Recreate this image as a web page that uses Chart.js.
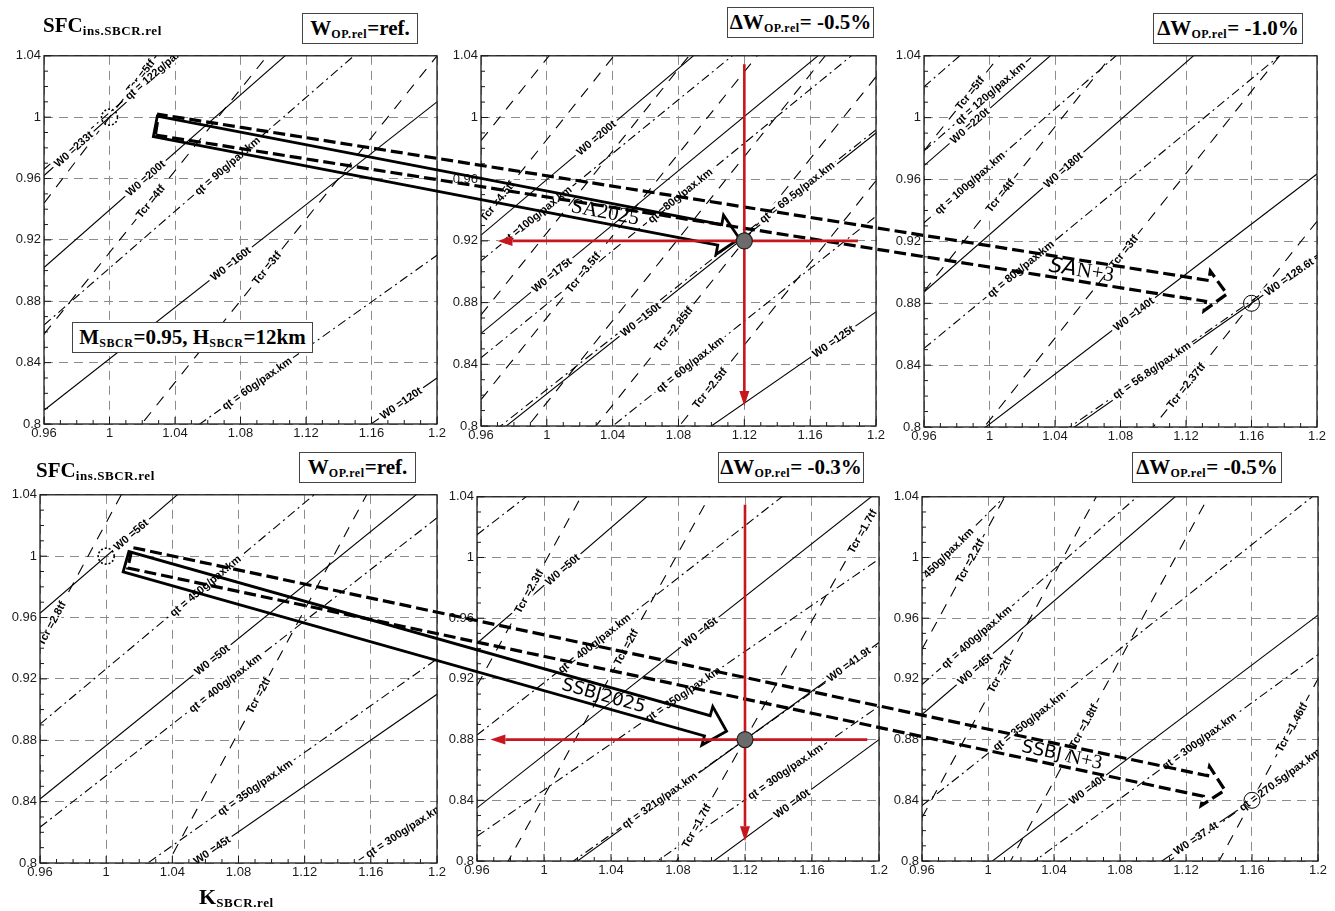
<!DOCTYPE html>
<html lang="en">
<head>
<meta charset="utf-8">
<title>SFC vs K carpet plots</title>
<script src="https://cdn.jsdelivr.net/npm/chart.js@4.4.1/dist/chart.umd.min.js"></script>
<style>
  html, body { margin: 0; padding: 0; background: #fff; }
  body { position: relative; width: 1335px; height: 911px; overflow: hidden;
         font-family: "Liberation Serif", "Times New Roman", serif; }
  canvas.panel { position: absolute; }
  #overlay { position: absolute; left: 0; top: 0; pointer-events: none; }
  .box { position: absolute; box-sizing: border-box; border: 1px solid #444; background: #fff;
         font-weight: bold; font-size: 21px; line-height: 29px; text-align: center; white-space: nowrap; }
  .hdr { position: absolute; font-weight: bold; font-size: 21px; line-height: 1; white-space: nowrap; }
  .box sub, .hdr sub { font-size: 12px; vertical-align: -3px; letter-spacing: .6px; line-height: 0; }
  .hdr sub { font-size: 13px; }
</style>
</head>
<body>
<div id="panels"></div>
<canvas id="overlay" width="1335" height="911"></canvas>

<div class="hdr" style="left:43px;top:15px">SFC<sub>ins.SBCR.rel</sub></div>
<div class="box" style="left:302px;top:13px;width:116px;height:31px">W<sub>OP.rel</sub>=ref.</div>
<div class="box" style="left:727px;top:7px;width:147px;height:31px">&Delta;W<sub>OP.rel</sub>= -0.5%</div>
<div class="box" style="left:1153px;top:13px;width:150px;height:31px">&Delta;W<sub>OP.rel</sub>= -1.0%</div>
<div class="box" style="left:72px;top:322px;width:241px;height:31px">M<sub>SBCR</sub>=0.95, H<sub>SBCR</sub>=12km</div>

<div class="hdr" style="left:36px;top:460px">SFC<sub>ins.SBCR.rel</sub></div>
<div class="box" style="left:299px;top:452px;width:117px;height:31px">W<sub>OP.rel</sub>=ref.</div>
<div class="box" style="left:718px;top:452px;width:146px;height:31px">&Delta;W<sub>OP.rel</sub>= -0.3%</div>
<div class="box" style="left:1132px;top:452px;width:150px;height:31px">&Delta;W<sub>OP.rel</sub>= -0.5%</div>
<div class="hdr" style="left:199px;top:886px;font-size:22px">K<sub>SBCR.rel</sub></div>

<script>
const K_MIN = 0.96, K_MAX = 1.2, S_MIN = 0.8, S_MAX = 1.04;
const kTicks = [0.96, 1, 1.04, 1.08, 1.12, 1.16, 1.2];
const sfcTicks = [0.8, 0.84, 0.88, 0.92, 0.96, 1, 1.04];

// every line: [label, SFC at K = 0.96, SFC at K = 1.2]; '' = unlabelled

// SA, reference design
const saRefW0 = [['W0 =233t', 0.962, 1.190], ['W0 =200t', 0.902, 1.127], ['W0 =160t', 0.809, 1.010], ['W0 =120t', 0.651, 0.830]];
const saRefTcr = [['Tcr =5tf', 0.944, 1.280], ['Tcr =4tf', 0.8585, 1.178], ['Tcr =3tf', 0.7207, 1.040]];
const saRefQt = [['qt = 122g/pax.km', 0.966, 1.188], ['qt = 90g/pax.km', 0.8645, 1.087], ['qt = 60g/pax.km', 0.7277, 0.910]];
const saRefLabelK = { W0: [0.978, 1.022, 1.074, 1.178], Tcr: [1.019, 1.025, 1.096], qt: [1.031, 1.072, 1.090] };

// SA2025
const sa2025W0 = [['W0 =200t', 0.9237, 1.140], ['W0 =175t', 0.860, 1.071], ['W0 =150t', 0.787, 0.990], ['W0 =125t', 0.6965, 0.874]];
const sa2025Tcr = [['Tcr =4.5tf', 0.9324, 1.252], ['Tcr =3.5tf', 0.8171, 1.136], ['Tcr =2.85tf', 0.7072, 1.0264], ['Tcr =2.5tf', 0.6396, 0.959],
                   ['', 0.985, 1.304], ['', 0.872, 1.191], ['', 0.762, 1.081]];
const sa2025Qt = [['qt =100g/pax.km', 0.9071, 1.116], ['qt =80g/pax.km', 0.8442, 1.053], ['qt = 69.5g/pax.km', 0.790, 0.992], ['qt = 60g/pax.km', 0.732, 0.936]];
const sa2025LabelK = { W0: [1.030, 1.003, 1.057, 1.174], Tcr: [0.970, 1.022, 1.077, 1.099], qt: [0.994, 1.081, 1.152, 1.087] };

// SA N+3
const saN3W0 = [['W0 =220t', 0.969, 1.190], ['W0 =180t', 0.8873, 1.110], ['W0 =140t', 0.7695, 0.9636], ['W0 =128.6t', 0.732, 0.9096]];
const saN3Tcr = [['Tcr =5tf', 0.9786, 1.298], ['Tcr =4tf', 0.8877, 1.207], ['Tcr =3tf', 0.7511, 1.0703], ['Tcr =2.37tf', 0.614, 0.933]];
const saN3Qt = [['qt = 120g/pax.km', 0.9785, 1.200], ['qt = 100g/pax.km', 0.932, 1.153], ['qt = 80g/pax.km', 0.8508, 1.060], ['qt = 56.8g/pax.km', 0.7345, 0.911], ['', 1.020, 1.240]];
const saN3LabelK = { W0: [0.988, 1.045, 1.088, 1.183], Tcr: [0.988, 1.0065, 1.082, 1.120], qt: [1.0004, 0.988, 1.019, 1.099] };

// SSBJ, reference design
const ssbjRefW0 = [['W0 =56t', 0.9628, 1.186], ['W0 =50t', 0.8417, 1.051], ['W0 =45t', 0.7307, 0.910]];
const ssbjRefTcr = [['Tcr =2.8tf', 0.9422, 1.420], ['Tcr =2tf', 0.6454, 1.125]];
const ssbjRefQt = [['qt = 450g/pax.km', 0.8905, 1.107], ['qt = 400g/pax.km', 0.8233, 1.025], ['qt = 350g/pax.km', 0.7504, 0.933], ['qt = 300g/pax.km', 0.667, 0.835]];
const ssbjRefLabelK = { W0: [1.015, 1.064, 1.064], Tcr: [0.967, 1.092], qt: [1.060, 1.072, 1.090, 1.180] };

// SSBJ2025
const ssbj2025W0 = [['W0 =50t', 0.9435, 1.172], ['W0 =45t', 0.835, 1.044], ['W0 =41.9t', 0.752, 0.944], ['W0 =40t', 0.6853, 0.880]];
const ssbj2025Tcr = [['Tcr =2.3tf', 0.9156, 1.396], ['Tcr =2tf', 0.7627, 1.243], ['Tcr =1.7tf', 0.5664, 1.0368]];
const ssbj2025Qt = [['', 1.015, 1.220], ['qt = 400g/pax.km', 0.883, 1.090], ['qt = 350g/pax.km', 0.8163, 0.999], ['qt = 321g/pax.km', 0.755, 0.9425], ['qt = 300g/pax.km', 0.717, 0.902]];
const ssbj2025LabelK = { W0: [1.011, 1.093, 1.182, 1.148], Tcr: [0.991, 1.049, [1.091, 1.190]], qt: [null, 1.030, 1.083, 1.069, 1.144] };

// SSBJ N+3
const ssbjN3W0 = [['W0 =45t', 0.8965, 1.121], ['W0 =40t', 0.765, 0.962], ['W0 =37.4t', 0.694, 0.869]];
const ssbjN3Tcr = [['Tcr =2.2tf', 0.9396, 1.420], ['Tcr =2tf', 0.8286, 1.309], ['Tcr =1.8tf', 0.6926, 1.173], ['Tcr =1.46tf', 0.440, 0.920]];
const ssbjN3Qt = [['qt = 450g/pax.km', 0.9858, 1.246], ['qt = 400g/pax.km', 0.9163, 1.144], ['qt = 350g/pax.km', 0.8365, 1.043], ['qt = 300g/pax.km', 0.746, 0.936], ['qt = 270.5g/pax.km', 0.680, 0.872]];
const ssbjN3LabelK = { W0: [0.992, 1.060, 1.126], Tcr: [0.989, 1.007, 1.058, 1.184], qt: [0.971, 0.993, 1.025, 1.128, 1.177] };

// design points [K, SFC]
const saRefPoint = [1, 1], sa2025Point = [1.12, 0.92], saN3Point = [1.16, 0.88];
const ssbjRefPoint = [1, 1], ssbj2025Point = [1.12, 0.88], ssbjN3Point = [1.16, 0.84];

// red guide arrows around the 2025 points
const sa2025Guide = { top: 1.0345, bottom: 0.813, right: 1.189, left: 0.970 };
const ssbj2025Guide = { top: 1.0347, bottom: 0.813, right: 1.193, left: 0.968 };

// transition arrows: tail in the reference panel, tip in the target panel
const saArrowTail = [1.028, 0.994], sa2025ArrowTip = [1.117, 0.9215];
const saN3ArrowTail = [1.029, 0.9951], saN3ArrowTip = [1.145, 0.886];
const ssbjArrowTail = [1.012, 0.9964], ssbj2025ArrowTip = [1.109, 0.8855];
const ssbjN3ArrowTail = [1.0144, 0.999], ssbjN3ArrowTip = [1.1436, 0.8467];

// plot areas on the page: [left, top, right, bottom]
const frames = [
  [44, 55, 437, 424], [481, 55, 876, 426], [924, 55, 1317, 427],
  [40, 494, 437, 863], [477, 496, 879, 861], [922, 496, 1318, 861]
];

const panelSpecs = [
  { W0: saRefW0, Tcr: saRefTcr, qt: saRefQt, at: saRefLabelK, ring: saRefPoint, dotted: true },
  { W0: sa2025W0, Tcr: sa2025Tcr, qt: sa2025Qt, at: sa2025LabelK, ring: null },
  { W0: saN3W0, Tcr: saN3Tcr, qt: saN3Qt, at: saN3LabelK, ring: saN3Point, dotted: false },
  { W0: ssbjRefW0, Tcr: ssbjRefTcr, qt: ssbjRefQt, at: ssbjRefLabelK, ring: ssbjRefPoint, dotted: true },
  { W0: ssbj2025W0, Tcr: ssbj2025Tcr, qt: ssbj2025Qt, at: ssbj2025LabelK, ring: null },
  { W0: ssbjN3W0, Tcr: ssbjN3Tcr, qt: ssbjN3Qt, at: ssbjN3LabelK, ring: ssbjN3Point, dotted: false }
];

const AXIS_W = 46, AXIS_H = 22, PAD_T = 10, PAD_R = 16;
const DASHES = { W0: [], Tcr: [11, 9], qt: [9, 4, 2, 4] };
const tickFont = { family: '"Liberation Sans", Arial, sans-serif', size: 13 };
const fmt = v => String(+Number(v).toFixed(2));

function lineSets(rows, dash) {
  return rows.map(r => ({
    label: r[0],
    data: [{ x: K_MIN, y: r[1] }, { x: K_MAX, y: r[2] }],
    showLine: true,
    borderColor: '#000',
    borderWidth: 1.1,
    borderDash: dash,
    pointRadius: 0,
    fill: false
  }));
}

function drawLineLabel(ctx, x, y, row, k) {
  const [text, yL, yR] = row;
  const s = yL + (k - K_MIN) / (K_MAX - K_MIN) * (yR - yL);
  const px = x.getPixelForValue(k), py = y.getPixelForValue(s);
  const ang = Math.atan2(y.getPixelForValue(yR) - y.getPixelForValue(yL),
                         x.getPixelForValue(K_MAX) - x.getPixelForValue(K_MIN));
  const w = ctx.measureText(text).width;
  ctx.save();
  ctx.translate(px, py);
  ctx.rotate(ang);
  ctx.fillStyle = '#fff';
  ctx.fillRect(-w / 2 - 3, -5.5, w + 6, 11);
  ctx.fillStyle = '#000';
  ctx.fillText(text, 0, 0.5);
  ctx.restore();
}

function makePanel(frame, spec) {
  const [L, T, R, B] = frame;
  const cv = document.createElement('canvas');
  cv.className = 'panel';
  cv.width = R - L + AXIS_W + PAD_R;
  cv.height = B - T + PAD_T + AXIS_H;
  cv.style.left = (L - AXIS_W) + 'px';
  cv.style.top = (T - PAD_T) + 'px';
  document.getElementById('panels').appendChild(cv);

  const decor = {
    id: 'carpetDecor',
    afterDatasetsDraw(chart) {
      const { ctx, chartArea: a, scales: { x, y } } = chart;
      ctx.save();
      ctx.beginPath();
      ctx.rect(a.left, a.top, a.right - a.left, a.bottom - a.top);
      ctx.clip();
      ctx.font = 'bold 11px "Liberation Sans", Arial, sans-serif';
      ctx.textAlign = 'center';
      ctx.textBaseline = 'middle';
      ['W0', 'Tcr', 'qt'].forEach(fam => {
        spec[fam].forEach((row, i) => {
          const at = spec.at[fam][i];
          if (at == null || !row[0]) return;
          [].concat(at).forEach(k => drawLineLabel(ctx, x, y, row, k));
        });
      });
      if (spec.ring) {
        ctx.beginPath();
        ctx.arc(x.getPixelForValue(spec.ring[0]), y.getPixelForValue(spec.ring[1]), 8, 0, Math.PI * 2);
        ctx.lineWidth = spec.dotted ? 1.6 : 1;
        ctx.setLineDash(spec.dotted ? [2, 2] : []);
        ctx.strokeStyle = '#000';
        ctx.stroke();
      }
      ctx.restore();
    },
    afterDraw(chart) {
      const { ctx, chartArea: a, scales: { x, y } } = chart;
      ctx.save();
      ctx.setLineDash([]);
      ctx.strokeStyle = '#1a1a1a';
      ctx.lineWidth = 1.3;
      ctx.strokeRect(a.left, a.top, a.right - a.left, a.bottom - a.top);
      // minor ticks every 0.01, pointing inwards
      ctx.lineWidth = 1;
      ctx.beginPath();
      for (let i = 0; i <= 24; i++) {
        const len = i % 4 === 0 ? 7 : 4;
        const px = x.getPixelForValue(K_MIN + i * 0.01);
        ctx.moveTo(px, a.bottom);
        ctx.lineTo(px, a.bottom - len);
        const py = y.getPixelForValue(S_MIN + i * 0.01);
        ctx.moveTo(a.left, py);
        ctx.lineTo(a.left + len, py);
      }
      ctx.stroke();
      ctx.restore();
    }
  };

  return new Chart(cv, {
    type: 'scatter',
    data: {
      datasets: [
        ...lineSets(spec.W0, DASHES.W0),
        ...lineSets(spec.Tcr, DASHES.Tcr),
        ...lineSets(spec.qt, DASHES.qt)
      ]
    },
    options: {
      responsive: false,
      animation: false,
      events: [],
      layout: { padding: { left: 0, top: PAD_T, right: PAD_R, bottom: 0 } },
      plugins: { legend: { display: false }, tooltip: { enabled: false } },
      scales: {
        x: {
          type: 'linear', min: K_MIN, max: K_MAX,
          afterBuildTicks: s => { s.ticks = kTicks.map(v => ({ value: v })); },
          afterFit: s => { s.height = AXIS_H; },
          ticks: { autoSkip: false, maxRotation: 0, padding: 2, color: '#1a1a1a', font: tickFont, callback: fmt },
          grid: { color: '#8c8c8c', lineWidth: 1, drawTicks: false },
          border: { display: false, dash: [9, 6] }
        },
        y: {
          type: 'linear', min: S_MIN, max: S_MAX,
          afterBuildTicks: s => { s.ticks = sfcTicks.map(v => ({ value: v })); },
          afterFit: s => { s.width = AXIS_W; },
          ticks: { autoSkip: false, padding: 3, color: '#1a1a1a', font: tickFont, callback: fmt },
          grid: { color: '#8c8c8c', lineWidth: 1, drawTicks: false },
          border: { display: false, dash: [9, 6] }
        }
      }
    },
    plugins: [decor]
  });
}

const charts = frames.map((f, i) => makePanel(f, panelSpecs[i]));

// ---------- cross-panel overlay ----------
const ov = document.getElementById('overlay').getContext('2d');

function toPage(chart, pt) {
  const c = chart.canvas;
  return {
    x: parseFloat(c.style.left) + chart.scales.x.getPixelForValue(pt[0]),
    y: parseFloat(c.style.top) + chart.scales.y.getPixelForValue(pt[1])
  };
}

function blockArrow(a, b, dashed) {
  const half = 10.5, headHalf = 20, headLen = 20;
  const dx = b.x - a.x, dy = b.y - a.y, len = Math.hypot(dx, dy);
  const ux = dx / len, uy = dy / len, nx = -uy, ny = ux;
  const bx = b.x - ux * headLen, by = b.y - uy * headLen;
  const pts = [
    [a.x + nx * half, a.y + ny * half],
    [bx + nx * half, by + ny * half],
    [bx + nx * headHalf, by + ny * headHalf],
    [b.x, b.y],
    [bx - nx * headHalf, by - ny * headHalf],
    [bx - nx * half, by - ny * half],
    [a.x - nx * half, a.y - ny * half]
  ];
  ov.save();
  ov.beginPath();
  pts.forEach((p, i) => (i ? ov.lineTo(p[0], p[1]) : ov.moveTo(p[0], p[1])));
  ov.closePath();
  ov.strokeStyle = '#000';
  ov.lineJoin = 'miter';
  ov.lineWidth = dashed ? 3.2 : 2.8;
  ov.setLineDash(dashed ? [12, 5] : []);
  ov.stroke();
  ov.restore();
}

function arrowText(a, b, t, parts) {
  const ang = Math.atan2(b.y - a.y, b.x - a.x);
  const px = a.x + (b.x - a.x) * t, py = a.y + (b.y - a.y) * t;
  ov.save();
  ov.translate(px, py);
  ov.rotate(ang);
  ov.fillStyle = '#000';
  ov.textBaseline = 'middle';
  ov.textAlign = 'left';
  let total = 0;
  parts.forEach(p => { ov.font = p.font; total += ov.measureText(p.text).width; });
  let cx = -total / 2;
  parts.forEach(p => { ov.font = p.font; ov.fillText(p.text, cx, 0); cx += ov.measureText(p.text).width; });
  ov.restore();
}

function redArrow(a, b) {
  const ang = Math.atan2(b.y - a.y, b.x - a.x), hl = 15, hw = 5;
  const bx = b.x - Math.cos(ang) * hl, by = b.y - Math.sin(ang) * hl;
  ov.save();
  ov.strokeStyle = ov.fillStyle = '#c8161d';
  ov.lineWidth = 2.6;
  ov.beginPath();
  ov.moveTo(a.x, a.y);
  ov.lineTo(bx, by);
  ov.stroke();
  ov.beginPath();
  ov.moveTo(b.x, b.y);
  ov.lineTo(bx + Math.sin(ang) * hw, by - Math.cos(ang) * hw);
  ov.lineTo(bx - Math.sin(ang) * hw, by + Math.cos(ang) * hw);
  ov.closePath();
  ov.fill();
  ov.restore();
}

function guides(chart, point, g) {
  redArrow(toPage(chart, [point[0], g.top]), toPage(chart, [point[0], g.bottom]));
  redArrow(toPage(chart, [g.right, point[1]]), toPage(chart, [g.left, point[1]]));
}

function dot(chart, point) {
  const p = toPage(chart, point);
  ov.save();
  ov.beginPath();
  ov.arc(p.x, p.y, 8, 0, Math.PI * 2);
  ov.fillStyle = '#6b6b6b';
  ov.fill();
  ov.lineWidth = 1.2;
  ov.strokeStyle = '#222';
  ov.stroke();
  ov.restore();
}

const saA = toPage(charts[0], saArrowTail), saB = toPage(charts[1], sa2025ArrowTip);
const saN3A = toPage(charts[0], saN3ArrowTail), saN3B = toPage(charts[2], saN3ArrowTip);
const ssA = toPage(charts[3], ssbjArrowTail), ssB = toPage(charts[4], ssbj2025ArrowTip);
const ssN3A = toPage(charts[3], ssbjN3ArrowTail), ssN3B = toPage(charts[5], ssbjN3ArrowTip);

blockArrow(saN3A, saN3B, true);
blockArrow(saA, saB, false);
blockArrow(ssN3A, ssN3B, true);
blockArrow(ssA, ssB, false);

const serif = '"Liberation Serif", "Times New Roman", serif';
const sans = '"DejaVu Sans", "Liberation Sans", sans-serif';
arrowText(saA, saB, 0.77, [{ text: 'SA2025', font: '21px ' + serif }]);
arrowText(saN3A, saN3B, 0.864, [{ text: 'SA', font: 'italic 21px ' + sans }, { text: 'N+3', font: '21px ' + serif }]);
arrowText(ssA, ssB, 0.795, [{ text: 'SSBJ2025', font: '18px ' + sans }]);
arrowText(ssN3A, ssN3B, 0.851, [{ text: 'SSBJ ', font: '18px ' + sans }, { text: 'N+3', font: '20px ' + serif }]);

guides(charts[1], sa2025Point, sa2025Guide);
guides(charts[4], ssbj2025Point, ssbj2025Guide);
dot(charts[1], sa2025Point);
dot(charts[4], ssbj2025Point);
</script>
</body>
</html>
